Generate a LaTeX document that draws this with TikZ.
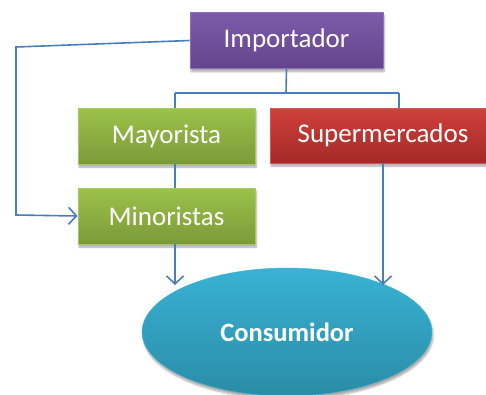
\documentclass[tikz,border=0pt]{standalone}
\usepackage{fontspec}
\setmainfont{Carlito}
\usetikzlibrary{arrows.meta,shadows.blur,shapes.geometric}
\definecolor{lnblue}{HTML}{4A7EBB}
\definecolor{purTop}{HTML}{7C5BA8}
\definecolor{purBot}{HTML}{64458C}
\definecolor{purEdge}{HTML}{8E72B5}
\definecolor{grnTop}{HTML}{9DC24A}
\definecolor{grnBot}{HTML}{7A9A38}
\definecolor{grnEdge}{HTML}{A8C866}
\definecolor{redTop}{HTML}{D0403B}
\definecolor{redBot}{HTML}{A42A28}
\definecolor{redEdge}{HTML}{D05A57}
\definecolor{ellTop}{HTML}{39B2D4}
\definecolor{ellBot}{HTML}{2A8CA6}
\definecolor{ellEdge}{HTML}{4BB8D8}
\tikzset{
  softshadow/.style={blur shadow={shadow xshift=1pt, shadow yshift=-3pt, shadow blur steps=6, shadow opacity=35}},
  box/.style={rectangle, minimum height=56pt, text=white, font=\fontsize{27}{30}\selectfont, inner sep=0pt, line width=0.8pt, softshadow},
  purplebox/.style={box, top color=purTop, bottom color=purBot, draw=purEdge},
  greenbox/.style={box, top color=grnTop, bottom color=grnBot, draw=grnEdge},
  redbox/.style={box, top color=redTop, bottom color=redBot, draw=redEdge},
  conn/.style={draw=lnblue, line width=1.6pt},
  arr/.style={conn, -{Straight Barb[length=8pt,width=17pt,line width=1.6pt]}},
}
\begin{document}
\begin{tikzpicture}[x=1pt,y=-1pt]
\useasboundingbox (0,0) rectangle (486,394);
\node[purplebox, minimum width=193pt] (imp) at (286.5,40.5) {Importador};
\node[greenbox, minimum width=177pt] (may) at (166.5,136) {Mayorista};
\node[redbox, minimum width=226pt, minimum height=55pt] (sup) at (383,135.5) {Supermercados};
\node[greenbox, minimum width=177pt] (min) at (166.5,216) {Minoristas};
\node[ellipse, minimum width=290pt, minimum height=128pt, top color=ellTop, bottom color=ellBot, draw=ellEdge,
  text=white, font=\bfseries\fontsize{26.5}{29}\selectfont, softshadow] (con) at (287,332) {Consumidor};
% connectors
\coordinate (bus) at (286,93);
\coordinate (busL) at (175,93);
\coordinate (busR) at (399,93);
\draw[conn] (imp.south) -- (bus);
\draw[conn] (busL) -- (busR);
\draw[conn] (busL) -- (busL |- may.north);
\draw[conn] (busR) -- (busR |- sup.north);
\draw[conn] (busL |- may.south) -- (busL |- min.north);
\coordinate (lt) at (16,47);
\coordinate (lb) at (16,215);
\draw[arr] (imp.west) -- (lt) -- (lb) -- (min.west);
\coordinate (minArr) at (175,285);
\coordinate (supArr) at (383,285);
\draw[arr] (busL |- min.south) -- (minArr);
\draw[arr] (sup.south) -- (supArr);
\end{tikzpicture}
\end{document}
